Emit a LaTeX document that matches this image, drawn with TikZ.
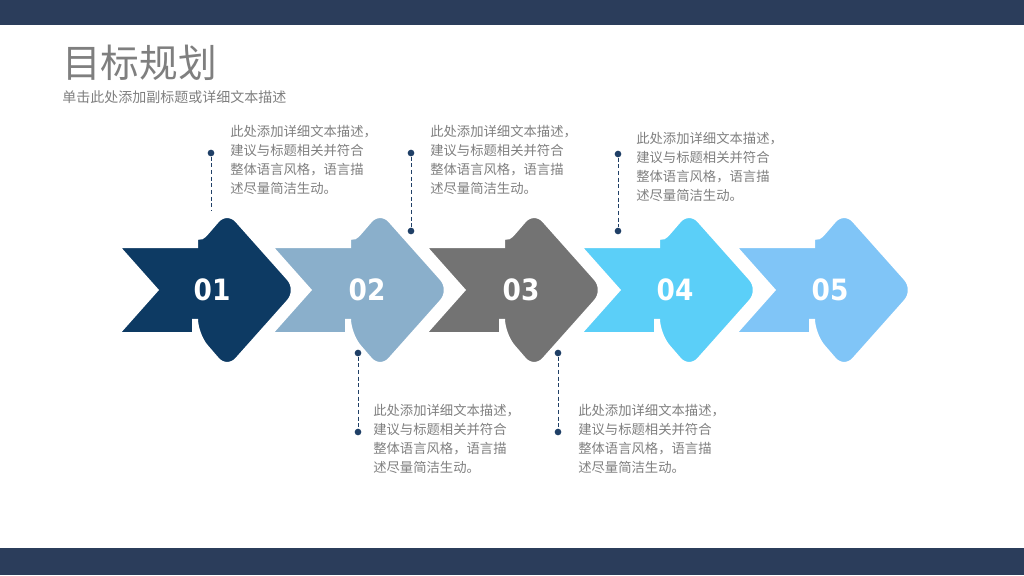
\documentclass[tikz,border=0pt]{standalone}
\usepackage{fontspec}
\setmainfont{Noto Sans CJK SC}
\newfontfamily\numfont{DejaVu Sans Condensed}
\definecolor{bar}{HTML}{2B3D5B}
\definecolor{cA}{HTML}{0D3A63}
\definecolor{cB}{HTML}{8AAFCB}
\definecolor{cC}{HTML}{737373}
\definecolor{cD}{HTML}{5BCFF8}
\definecolor{cE}{HTML}{80C5F7}
\definecolor{txt}{HTML}{7F7F7F}
\definecolor{dotc}{HTML}{1F3F66}
\newcommand\myarrow[2]{%
  \fill[#2,draw=white,line width=4.5] (#1,245) -- (#1+80,245) [rounded corners=12] -- (#1+80,245) -- (#1+112,208) -- (#1+185,290) -- (#1+112,372) -- (#1+80,335) [sharp corners] -- (#1+80,335) -- (#1,335) -- (#1+40,290) -- cycle;}
\tikzset{
  desc/.style={anchor=north west,align=left,font=\fontsize{10}{14.2}\selectfont,text=txt,inner sep=0},
  num/.style={font=\numfont\bfseries\fontsize{22}{22}\selectfont,text=white},
  dot/.style={circle,fill=dotc,inner sep=0,minimum size=5},
  lead/.style={dotc,densely dashed,line width=0.6}
}
\begin{document}
\begin{tikzpicture}[x=0.75pt,y=-0.75pt]
\useasboundingbox (0,0) rectangle (1024,575);
\fill[bar] (0,0) rectangle (1024,25);
\fill[bar] (0,548) rectangle (1024,575);
\node[anchor=west,text=txt,font=\fontsize{29}{30}\selectfont,inner sep=0] (title) at (62,63) {目标规划};
\node[anchor=west,text=txt,font=\fontsize{10.5}{12}\selectfont,inner sep=0] (sub) at (62,97) {单击此处添加副标题或详细文本描述};
\myarrow{732}{cE}
\myarrow{577}{cD}
\myarrow{422}{cC}
\myarrow{268}{cB}
\myarrow{115}{cA}
\node[num] (n1) at (212,290) {01};
\node[num] (n2) at (367,290) {02};
\node[num] (n3) at (521,290) {03};
\node[num] (n4) at (675,290) {04};
\node[num] (n5) at (830,290) {05};
\def\body{此处添加详细文本描述，\\建议与标题相关并符合\\整体语言风格，语言描\\述尽量简洁生动。}
\node[desc] (t1) at (230,125) {\body};
\node[desc] (t2) at (430,125) {\body};
\node[desc] (t3) at (636,132) {\body};
\node[desc] (t4) at (373,404) {\body};
\node[desc] (t5) at (578,404) {\body};
\node[dot] (d1) at (211,153) {}; \coordinate (e1) at (211,210);
\node[dot] (d2a) at (411,153) {}; \node[dot] (d2b) at (411,231) {};
\node[dot] (d3a) at (618,154) {}; \node[dot] (d3b) at (618,231) {};
\node[dot] (d4a) at (358,353) {}; \node[dot] (d4b) at (358,432) {};
\node[dot] (d5a) at (558,353) {}; \node[dot] (d5b) at (558,432) {};
\draw[lead] (d1) -- (e1);
\draw[lead] (d2a) -- (d2b);
\draw[lead] (d3a) -- (d3b);
\draw[lead] (d4a) -- (d4b);
\draw[lead] (d5a) -- (d5b);
\end{tikzpicture}
\end{document}
